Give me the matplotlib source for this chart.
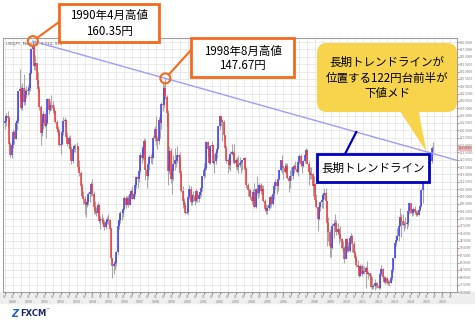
import numpy as np
import matplotlib.pyplot as plt
from matplotlib.patches import FancyBboxPatch, Rectangle, Polygon, Circle
from matplotlib.transforms import blended_transform_factory

plt.rcParams['font.family'] = ['Noto Sans CJK JP', 'DejaVu Sans']

# USD/JPY monthly, Jul 1988 - Jun 2015
first_open = 132.5
close = [
    133.3, 134.8, 134.2, 125.5, 121.7, 125.0,                                  # 1988 H2
    129.5, 127.0, 132.5, 133.0, 143.3, 144.0, 137.5, 144.5, 139.5, 142.0, 143.5, 143.8,  # 1989
    144.5, 149.5, 157.5, 158.5, 152.0, 153.0, 147.0, 144.0, 138.0, 129.0, 132.5, 135.5,  # 1990
    131.5, 132.5, 140.5, 137.0, 138.5, 138.5, 137.5, 136.5, 132.8, 130.5, 129.5, 124.9,  # 1991
    125.5, 129.5, 133.0, 133.5, 127.8, 125.5, 127.5, 123.5, 119.5, 123.5, 124.5, 124.8,  # 1992
    124.5, 117.5, 115.5, 111.0, 107.5, 106.5, 105.0, 104.5, 105.5, 108.5, 109.0, 111.8,  # 1993
    108.5, 104.0, 102.5, 102.0, 104.5, 99.0, 100.0, 99.5, 98.5, 97.0, 98.8, 99.7,        # 1994
    99.5, 96.5, 86.5, 84.0, 84.5, 84.7, 88.5, 97.5, 99.5, 101.8, 101.8, 103.4,           # 1995
    107.0, 104.5, 107.0, 104.5, 108.5, 109.5, 106.8, 108.5, 111.5, 114.0, 113.5, 116.0,  # 1996
    121.5, 120.5, 124.0, 126.5, 116.5, 114.5, 118.5, 121.0, 120.5, 120.5, 127.5, 130.5,  # 1997
    127.0, 126.5, 133.5, 132.5, 139.0, 138.5, 144.5, 141.5, 136.0, 116.0, 123.0, 113.5,  # 1998
    116.0, 118.5, 120.0, 119.5, 121.5, 121.0, 115.5, 109.5, 106.0, 104.5, 102.0, 102.2,  # 1999
    107.2, 110.0, 105.5, 108.0, 107.5, 106.0, 109.5, 106.5, 108.0, 109.0, 110.3, 114.4,  # 2000
    116.4, 117.3, 126.1, 123.6, 118.9, 124.7, 125.0, 118.8, 119.5, 122.3, 123.6, 131.3,  # 2001
    134.7, 133.5, 132.7, 128.5, 124.0, 119.5, 119.8, 118.3, 121.8, 122.5, 122.3, 118.8,  # 2002
    119.9, 117.5, 118.1, 119.0, 119.3, 119.8, 120.5, 116.9, 111.4, 109.8, 109.6, 107.2,  # 2003
    105.9, 109.1, 103.8, 110.2, 109.5, 108.7, 111.4, 109.2, 110.2, 105.8, 103.1, 102.6,  # 2004
    103.6, 104.6, 107.2, 104.9, 108.5, 110.9, 112.4, 111.1, 113.5, 116.4, 119.8, 117.9,  # 2005
    117.3, 115.8, 117.8, 113.8, 112.8, 114.4, 114.5, 117.5, 118.0, 116.9, 115.9, 119.1,  # 2006
    121.1, 118.5, 117.8, 119.5, 121.7, 123.2, 118.6, 115.8, 114.8, 115.2, 111.1, 111.7,  # 2007
    106.4, 104.0, 99.7, 104.0, 105.5, 106.2, 108.0, 108.8, 106.0, 98.5, 95.5, 90.6,      # 2008
    89.9, 97.6, 98.1, 98.6, 95.3, 96.4, 94.7, 93.1, 89.8, 90.1, 86.3, 93.0,              # 2009
    90.3, 88.9, 93.5, 94.0, 91.2, 88.4, 86.5, 84.2, 83.5, 80.4, 83.7, 81.1,              # 2010
    82.0, 81.8, 83.1, 81.2, 81.5, 80.5, 76.8, 76.6, 77.1, 78.2, 77.6, 76.9,              # 2011
    76.3, 81.2, 82.9, 80.0, 78.4, 79.8, 78.1, 78.4, 77.9, 79.8, 82.5, 86.7,              # 2012
    91.7, 92.6, 94.2, 97.4, 100.4, 99.1, 97.9, 98.2, 98.3, 98.4, 102.4, 105.3,           # 2013
    102.0, 101.8, 103.2, 102.2, 101.8, 101.3, 102.8, 104.1, 109.7, 112.3, 118.6, 119.8,  # 2014
    117.5, 119.6, 120.1, 119.4, 124.1, 123.9,                                            # 2015 H1
]
high = [
    135.0, 136.0, 136.5, 135.0, 126.0, 126.0,
    130.5, 130.0, 133.5, 134.5, 143.5, 151.0, 145.0, 146.0, 149.0, 144.0, 145.0, 145.5,
    146.0, 150.5, 158.0, 160.35, 159.0, 155.5, 153.0, 150.0, 145.0, 138.5, 134.0, 136.5,
    136.0, 134.0, 141.0, 141.0, 140.0, 142.0, 140.0, 138.5, 137.0, 133.5, 131.5, 130.5,
    128.0, 130.0, 134.5, 134.5, 134.0, 129.5, 128.0, 128.5, 124.5, 124.5, 125.5, 125.5,
    126.0, 124.5, 120.0, 116.0, 112.0, 109.5, 107.5, 106.0, 107.0, 109.0, 109.5, 112.5,
    113.5, 109.5, 106.0, 104.0, 105.5, 105.0, 101.0, 101.5, 100.5, 99.5, 99.5, 101.0,
    101.5, 100.0, 97.0, 86.5, 85.5, 86.0, 89.0, 99.5, 101.0, 102.5, 102.5, 103.5,
    107.5, 107.5, 107.5, 108.0, 109.0, 110.0, 111.0, 109.0, 112.0, 114.5, 114.5, 116.5,
    122.5, 124.5, 124.5, 127.5, 127.0, 116.5, 119.0, 121.5, 122.0, 123.0, 128.0, 131.5,
    135.0, 128.0, 134.5, 135.5, 139.5, 146.5, 145.5, 147.67, 142.0, 137.0, 124.5, 124.0,
    117.5, 121.5, 124.0, 121.0, 124.5, 122.0, 122.5, 116.5, 111.0, 107.0, 105.5, 103.5,
    107.5, 111.5, 111.0, 108.5, 109.5, 108.5, 110.0, 109.5, 109.0, 109.5, 111.0, 114.5,
    119.0, 118.0, 126.5, 126.5, 124.0, 125.0, 126.5, 125.0, 122.0, 123.0, 124.5, 131.5,
    135.0, 135.0, 134.0, 133.5, 128.5, 125.0, 120.5, 121.5, 123.0, 125.5, 123.0, 125.5,
    120.5, 121.0, 121.5, 121.0, 119.5, 120.0, 120.5, 121.0, 117.5, 112.0, 110.5, 110.0,
    107.5, 110.0, 112.0, 110.5, 114.5, 111.5, 112.0, 112.0, 111.5, 111.5, 106.5, 105.0,
    104.5, 106.0, 107.5, 108.0, 108.5, 111.0, 113.5, 112.0, 113.5, 116.5, 120.0, 121.5,
    118.0, 119.0, 119.0, 119.0, 113.5, 116.5, 117.5, 117.5, 118.5, 119.5, 118.0, 119.5,
    122.0, 122.0, 118.5, 120.0, 122.0, 124.0, 123.5, 119.5, 117.5, 117.5, 115.5, 114.5,
    112.0, 108.5, 104.0, 105.0, 106.0, 108.5, 108.5, 110.5, 110.5, 106.0, 100.5, 96.5,
    91.5, 98.5, 99.5, 101.5, 99.5, 98.5, 96.5, 97.5, 93.5, 92.5, 90.5, 93.5,
    93.5, 92.0, 93.5, 95.0, 94.5, 92.5, 89.0, 87.5, 86.0, 84.0, 84.5, 84.5,
    84.0, 84.0, 84.0, 85.5, 82.0, 81.5, 81.0, 80.0, 77.8, 79.5, 78.5, 78.5,
    77.5, 81.5, 84.2, 83.0, 80.5, 80.5, 80.0, 79.5, 79.0, 80.5, 82.8, 86.7,
    91.8, 94.5, 96.7, 99.9, 103.7, 101.5, 101.5, 99.2, 100.6, 99.0, 102.5, 105.4,
    105.4, 102.8, 103.8, 104.1, 102.8, 102.8, 103.1, 104.5, 110.1, 112.5, 119.0, 121.8,
    120.8, 120.5, 122.0, 120.8, 124.5, 125.9,
]
low = [
    130.5, 131.5, 131.0, 125.0, 121.0, 120.5,
    124.0, 125.5, 127.0, 130.0, 132.5, 140.0, 137.0, 137.0, 138.5, 138.5, 141.0, 142.0,
    142.5, 143.5, 149.0, 155.0, 150.5, 150.5, 146.0, 143.0, 137.0, 125.0, 128.0, 130.5,
    131.0, 127.5, 132.0, 135.5, 136.5, 137.0, 136.0, 135.5, 132.5, 129.5, 128.5, 124.5,
    122.0, 125.0, 128.5, 131.5, 127.5, 124.5, 124.0, 122.5, 118.5, 119.0, 122.5, 122.5,
    123.5, 116.5, 114.5, 110.0, 107.0, 105.0, 101.5, 100.5, 104.0, 104.5, 105.5, 107.5,
    107.5, 101.5, 101.5, 101.0, 101.0, 98.5, 96.5, 98.0, 97.5, 96.0, 96.5, 98.0,
    98.0, 96.0, 86.0, 79.75, 81.0, 82.5, 84.0, 88.0, 96.5, 98.5, 99.5, 100.5,
    103.0, 103.5, 104.5, 104.0, 104.5, 107.5, 106.5, 106.5, 107.5, 110.5, 110.5, 112.5,
    115.5, 119.0, 120.0, 122.0, 113.0, 110.5, 113.5, 116.5, 119.0, 118.5, 120.5, 126.5,
    125.0, 123.5, 125.5, 127.5, 130.5, 136.5, 138.0, 140.5, 131.5, 111.5, 115.0, 112.0,
    108.5, 113.0, 116.5, 117.5, 119.0, 117.5, 114.0, 109.0, 103.5, 104.0, 101.5, 101.5,
    101.5, 106.5, 104.5, 104.5, 105.5, 104.5, 105.5, 105.5, 105.5, 107.0, 107.5, 109.5,
    113.5, 114.0, 116.5, 121.0, 118.5, 118.5, 123.0, 118.5, 115.5, 118.5, 120.5, 123.5,
    130.0, 131.5, 126.5, 127.5, 123.5, 119.0, 115.5, 117.0, 116.0, 121.5, 119.5, 118.5,
    117.0, 116.5, 115.5, 117.5, 115.5, 116.5, 117.0, 116.5, 110.5, 107.5, 107.5, 106.5,
    105.0, 104.5, 103.5, 103.5, 108.5, 107.0, 107.5, 108.5, 108.5, 105.5, 102.5, 101.5,
    101.5, 103.0, 103.5, 104.0, 104.5, 106.5, 110.0, 108.5, 109.5, 113.0, 116.0, 115.5,
    113.5, 115.5, 115.5, 113.5, 109.0, 110.5, 113.0, 113.5, 115.5, 116.5, 115.5, 114.5,
    118.5, 118.0, 115.5, 117.5, 119.0, 121.0, 118.5, 111.5, 113.5, 113.5, 107.5, 109.5,
    105.5, 103.5, 95.8, 99.5, 102.5, 103.5, 103.5, 106.5, 103.5, 90.5, 92.5, 87.0,
    87.0, 89.5, 93.5, 96.5, 94.5, 94.5, 91.5, 92.5, 89.5, 88.5, 84.8, 86.5,
    88.5, 88.5, 88.5, 92.5, 88.5, 88.0, 86.0, 83.5, 82.5, 80.0, 80.5, 80.5,
    81.5, 81.0, 76.3, 81.0, 79.5, 79.5, 76.5, 75.9, 75.9, 75.6, 76.5, 76.5,
    76.0, 76.1, 80.5, 79.8, 78.0, 77.7, 77.6, 77.5, 77.1, 77.9, 79.0, 81.7,
    86.5, 90.8, 92.5, 92.5, 97.5, 93.8, 97.5, 95.8, 96.9, 96.6, 97.6, 101.6,
    101.8, 100.8, 101.2, 101.4, 100.8, 101.0, 101.1, 102.4, 103.8, 105.2, 112.4, 115.6,
    115.9, 116.9, 118.3, 118.5, 118.9, 122.5,
]
month_labels = ['07', '01']
y_ticks = np.arange(75, 160.1, 2.5)
last_price_label = '123.9620'
header = 'USDJPY, Monthly, 4.234, 975'

orange = '#f26b1d'
navy = '#0000c0'
yellow = '#f7d44c'

close = np.array(close)
high = np.array(high)
low = np.array(low)
opn = np.concatenate([[first_open], close[:-1]])
x = np.arange(len(close))

fig = plt.figure(figsize=(4.75, 3.24), dpi=100)
fig.add_artist(Rectangle((0, 1 - 303 / 324), 1, 11 / 324, transform=fig.transFigure,
                         color='#eeeeee', zorder=0))

ax = fig.add_axes([3 / 475, 1 - 292 / 324, 454 / 475, 254 / 324])
ax.set_xlim(-1.5, 341)
ax.set_ylim(75, 161.4)

# grid / ticks
tick_pos = np.arange(0, 341, 6)
ax.set_xticks(tick_pos)
ax.set_xticklabels([month_labels[(p // 6) % 2] + ('\n' + str(1989 + (p - 6) // 12) if (p // 6) % 2 else '')
                    for p in tick_pos], linespacing=1.1)
ax.set_yticks(y_ticks)
ax.set_yticklabels(['%.4f' % v for v in y_ticks])
ax.yaxis.tick_right()
ax.grid(True, color='#e6e6e6', lw=0.6)
ax.set_axisbelow(True)
ax.tick_params(axis='x', labelsize=2.6, colors='#777777', length=1.5, pad=1)
ax.tick_params(axis='y', labelsize=2.3, colors='#777777', length=1.2, pad=0.6)
ax.tick_params(axis='y', color='#e08080')
for s in ax.spines.values():
    s.set_color('#a0a0a0')
    s.set_linewidth(0.8)

# candles
up = close >= opn
ax.vlines(x, low, high, color='#a8a8a8', lw=0.8, zorder=2)
ax.vlines(x[up], opn[up], close[up], color='#3a3af2', lw=1.1, zorder=3)
ax.vlines(x[~up], opn[~up], close[~up], color='#f23a3a', lw=1.1, zorder=3)

# trend line through the two peaks
i1 = int(np.argmax(high[:60]))
i2 = 60 + int(np.argmax(high[60:180]))
slope = (high[i2] - high[i1]) / (i2 - i1)
trend = lambda xi: high[i1] + slope * (xi - i1)
ax.plot([i1, 341], [trend(i1), trend(341)], color='#9d9df5', lw=1, zorder=4)

ax.text(0.006, 0.985, header, transform=ax.transAxes, fontsize=2.8, va='top', color='#555555',
        family='DejaVu Sans')
bt = blended_transform_factory(ax.transAxes, ax.transData)
ax.text(1.003, close[-1], last_price_label, transform=bt, fontsize=2.3, va='center', color='#555555',
        bbox=dict(fc='#f5b4b4', ec='none', pad=0.3), clip_on=False)

# overlay in image pixels
ov = fig.add_axes([0, 0, 1, 1], zorder=10)
ov.set_xlim(0, 475)
ov.set_ylim(324, 0)
ov.axis('off')
ov.patch.set_alpha(0)


def to_px(xd, yd):
    dx, dy = ax.transData.transform((xd, yd))
    return dx, 324 - dy


def connect(p0, c, r, color, lw):
    v = np.array(c) - np.array(p0)
    end = np.array(c) - v / np.hypot(*v) * r
    ov.plot([p0[0], end[0]], [p0[1], end[1]], color=color, lw=lw, solid_capstyle='butt')


fs = 8.3
# 1990 peak
c1 = to_px(i1, high[i1])
ov.add_patch(Circle(c1, 5, fill=False, ec=orange, lw=1.5))
ov.add_patch(Rectangle((59, 4), 100, 38, fc='white', ec=orange, lw=2))
ov.text(109, 15, '1990年4月高値', fontsize=fs, ha='center', va='center')
ov.text(109, 32, '%.2f円' % high[i1], fontsize=fs, ha='center', va='center')
connect((59, 22), c1, 5, orange, 1.5)

# 1998 peak
c2 = to_px(i2, high[i2])
ov.add_patch(Circle(c2, 5, fill=False, ec=orange, lw=1.5))
ov.add_patch(Rectangle((191, 38), 103, 39, fc='white', ec=orange, lw=2))
ov.text(242.5, 51, '1998年8月高値', fontsize=fs, ha='center', va='center')
ov.text(242.5, 66, '%.2f円' % high[i2], fontsize=fs, ha='center', va='center')
connect((191, 50), c2, 5, orange, 1.5)

# speech bubble
tip = to_px(318, trend(318))
ov.add_patch(FancyBboxPatch((317, 43), 140, 69, boxstyle='round,pad=0,rounding_size=10',
                            fc=yellow, ec='none'))
ov.add_patch(Polygon([(398, 108), (418, 108), tip], fc=yellow, ec='none'))
ov.text(387, 62, '長期トレンドラインが', fontsize=fs, ha='center', va='center')
ov.text(387, 78, '位置する122円台前半が', fontsize=fs, ha='center', va='center')
ov.text(387, 94, '下値メド', fontsize=fs, ha='center', va='center')

# trend line label
p_tr = to_px(265, trend(265))
ov.plot([345, p_tr[0]], [154, p_tr[1]], color=navy, lw=1.6)
ov.add_patch(Rectangle((317, 154), 112, 28, fc='white', ec=navy, lw=2))
ov.text(373, 168, '長期トレンドライン', fontsize=fs, ha='center', va='center')

# logo
ov.text(11, 314, 'Z', fontsize=7, color='#2a64c8', fontweight='bold', fontstyle='italic',
        va='center', family='DejaVu Sans')
ov.text(20, 314, 'FXCM', fontsize=6, color='#1c2a6e', fontweight='bold', va='center',
        family='DejaVu Sans')
ov.text(45.5, 310, '™', fontsize=3, color='#1c2a6e', va='center', family='DejaVu Sans')

fig.savefig('out.png', dpi=100)
